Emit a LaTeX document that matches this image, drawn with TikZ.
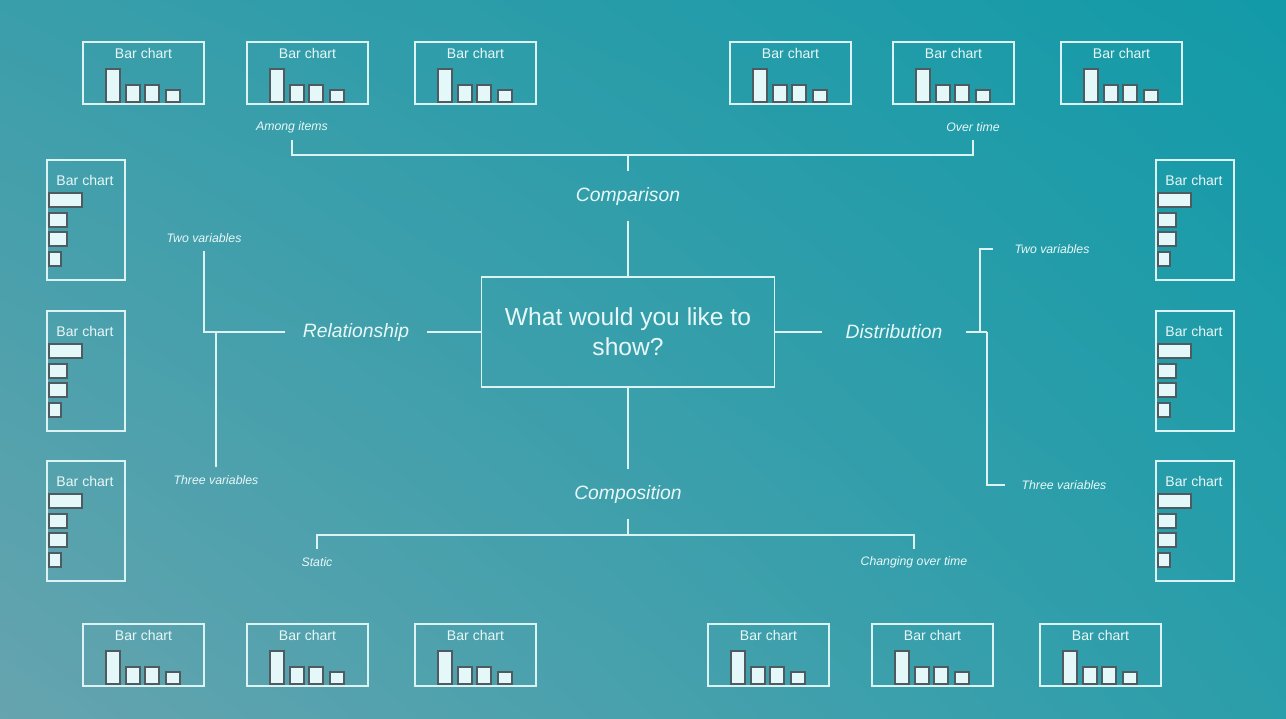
\documentclass[tikz,border=0pt]{standalone}
\usepackage{fontspec}
\setmainfont{Liberation Sans}
\usetikzlibrary{positioning, calc}
\usetikzlibrary{shadings}
\definecolor{bgtl}{HTML}{3A9EAA}
\definecolor{bgtr}{HTML}{129AA8}
\definecolor{bgbl}{HTML}{66A4AF}
\definecolor{bgbr}{HTML}{2A9EAA}
\definecolor{linecol}{HTML}{DCF2F3}
\definecolor{textcol}{HTML}{E8F8F8}
\definecolor{barfill}{HTML}{E4F7F9}
\definecolor{barline}{HTML}{4E5B61}
\tikzset{
  chartbox/.style = {draw = linecol, line width = 0.7pt},
  bar/.style = {draw = barline, fill = barfill, line width = 0.7pt},
  charttitle/.style = {text = textcol, font = \fontsize{8}{9}\selectfont, inner sep = 0pt},
  link/.style = {draw = linecol, line width = 0.7pt},
  cat/.style = {text = textcol, font = \fontsize{11}{13}\selectfont\itshape, minimum height = 1cm, inner xsep = 10pt},
  sub/.style = {text = textcol, font = \fontsize{7}{8}\selectfont\itshape, minimum height = 0.52cm},
  question/.style = {draw = linecol, line width = 0.7pt, text = textcol, align = center,
    font = \fontsize{14}{17}\selectfont, minimum width = 5.86cm, minimum height = 2.2cm}
}
% bar chart with upright bars: name, x, y of upper left corner
\newcommand{\vchart}[3]{
  \draw[chartbox] (#2,#3) rectangle ++(121,62);
  \node[charttitle] (#1) at (#2+60.5,#3+11) {Bar chart};
  \draw[bar] (#2+23,#3+60) rectangle ++(14,-33);
  \draw[bar] (#2+43,#3+60) rectangle ++(14,-17);
  \draw[bar] (#2+62,#3+60) rectangle ++(14,-17);
  \draw[bar] (#2+83,#3+60) rectangle ++(14,-12);
}
% bar chart with lying bars
\newcommand{\hchart}[3]{
  \draw[chartbox] (#2,#3) rectangle ++(78,120);
  \node[charttitle] (#1) at (#2+38,#3+20) {Bar chart};
  \draw[bar] (#2+2,#3+33) rectangle ++(33,14);
  \draw[bar] (#2+2,#3+53) rectangle ++(18,14);
  \draw[bar] (#2+2,#3+72) rectangle ++(18,14);
  \draw[bar] (#2+2,#3+92) rectangle ++(12,14);
}

\begin{document}
\begin{tikzpicture}[x = 0.02cm, y = -0.02cm]
    \useasboundingbox (0,0) rectangle (1286,718);
    \shade[upper left = bgtl, upper right = bgtr, lower left = bgbl, lower right = bgbr] (0,0) rectangle (1286,718);

    % charts round the border
    \vchart{t1}{83}{42}
    \vchart{t2}{247}{42}
    \vchart{t3}{415}{42}
    \vchart{t4}{730}{42}
    \vchart{t5}{893}{42}
    \vchart{t6}{1061}{42}
    \vchart{b1}{83}{624}
    \vchart{b2}{247}{624}
    \vchart{b3}{415}{624}
    \vchart{b4}{708}{624}
    \vchart{b5}{872}{624}
    \vchart{b6}{1040}{624}
    \hchart{l1}{47}{160}
    \hchart{l2}{47}{311}
    \hchart{l3}{47}{461}
    \hchart{r1}{1156}{160}
    \hchart{r2}{1156}{311}
    \hchart{r3}{1156}{461}

    % question and the four kinds
    \node[question] (q) at (628,332) {What would you like to\\show?};
    \node[cat] (cmp) at (628,196) {Comparison};
    \node[cat] (cps) at (628,494) {Composition};
    \node[cat] (rel) at (356,332) {Relationship};
    \node[cat, inner xsep = 13pt] (dst) at (894,332) {Distribution};

    \node[sub] (among) at (292,127) {Among items};
    \node[sub] (overt) at (973,127) {Over time};
    \node[sub] (static) at (317,562) {Static};
    \node[sub] (chg) at (914,562) {Changing over time};
    \node[sub] (twol) at (204,238) {Two variables};
    \node[sub] (threel) at (216,480) {Three variables};
    \node[sub] (twor) at (1052,249) {Two variables};
    \node[sub] (threer) at (1064,485) {Three variables};

    \coordinate (cmpj) at (628,155);
    \coordinate (cpsj) at (628,535);
    \coordinate (dtw) at (980,332);
    \coordinate (dth) at (987,332);

    \draw[link] (q.north) -- (cmp.south);
    \draw[link] (cmp.north) -- (cmpj);
    \draw[link] (among.south) |- (cmpj) -| (overt.south);

    \draw[link] (q.south) -- (cps.north);
    \draw[link] (cps.south) -- (cpsj);
    \draw[link] (static.north) |- (cpsj) -| (chg.north);

    \draw[link] (q.west) -- (rel.east);
    \draw[link] (twol.south) |- (rel.west);
    \draw[link] (threel.north) -- (threel.north |- rel.west);

    \draw[link] (q.east) -- (dst.west);
    \draw[link] (dst.east) -- (dth);
    \draw[link, shorten > = 9pt] (dtw) |- (twor.west);
    \draw[link, shorten > = 6pt] (dth) |- (threer.west);
\end{tikzpicture}
\end{document}
